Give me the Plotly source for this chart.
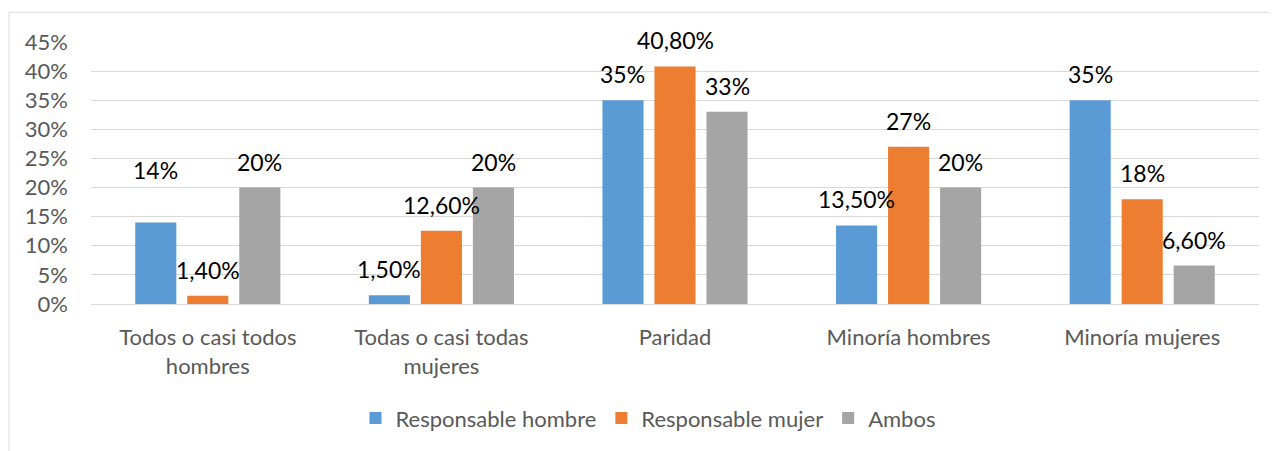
import plotly.graph_objects as go

categories = ["Todos o casi todos<br>hombres", "Todas o casi todas<br>mujeres", "Paridad",
              "Minoría hombres", "Minoría mujeres"]
series_names = ["Responsable hombre", "Responsable mujer", "Ambos"]
resp_hombre = [14, 1.5, 35, 13.5, 35]
resp_mujer = [1.4, 12.6, 40.8, 27, 18]
ambos = [20, 20, 33, 20, 6.6]
y_ticks = [0, 5, 10, 15, 20, 25, 30, 35, 40, 45]
y_tick_labels = [f"{t}%" for t in y_ticks]

colors = ["#5B9BD5", "#ED7D31", "#A5A5A5"]
FONT = "Lato"
TXT = "#595959"

# the page body has an 8px margin; work in page pixels and convert
OFF = 8
PAGE_W, PAGE_H = 1277, 451
W, H = PAGE_W - OFF, PAGE_H - OFF
PLOT_X0, PLOT_X1, PLOT_Y0, PLOT_Y1 = 91, 1259, 42, 306  # page px
L, R = PLOT_X0 - OFF, W - (PLOT_X1 - OFF)
T, B = PLOT_Y0 - OFF, H - (PLOT_Y1 - OFF)
BARGAP, BARGROUPGAP = 0.332, 0.21


def fmt(v):
    if float(v).is_integer():
        return f"{int(v)}%"
    return f"{v:.2f}%".replace(".", ",")


fig = go.Figure()
all_series = [resp_hombre, resp_mujer, ambos]
for name, vals, col in zip(series_names, all_series, colors):
    fig.add_trace(go.Bar(x=categories, y=vals, name=name, marker=dict(color=col, line=dict(width=0))))

plot_w = PLOT_X1 - PLOT_X0
plot_h = PLOT_Y1 - PLOT_Y0
cat_w = plot_w / len(categories)
slot = cat_w * (1 - BARGAP) / len(all_series)
extra_lift = {(0, 0): 26}
for i, vals in enumerate(all_series):
    for j, v in enumerate(vals):
        fig.add_annotation(x=categories[j], y=v, text=fmt(v), showarrow=False,
                           xshift=(i - 1) * slot, yshift=26 + extra_lift.get((i, j), 0),
                           font=dict(family=FONT, size=23, color="#000000"),
                           xanchor="center", yanchor="middle")


def py(page_px):
    return (PLOT_Y1 - page_px) / plot_h


def pxx(page_px):
    return (page_px - PLOT_X0) / plot_w


# chart border (top and left edges)
fig.add_shape(type="line", xref="paper", yref="paper", x0=pxx(9), x1=pxx(PAGE_W + 5), y0=py(12), y1=py(12),
              line=dict(color="#D9D9D9", width=1))
fig.add_shape(type="line", xref="paper", yref="paper", x0=pxx(9), x1=pxx(9), y0=py(12), y1=py(PAGE_H + 5),
              line=dict(color="#D9D9D9", width=1))

fig.update_layout(
    width=W, height=H,
    margin=dict(l=L, r=R, t=T, b=B, pad=0),
    paper_bgcolor="white", plot_bgcolor="white",
    barmode="group", bargap=BARGAP, bargroupgap=BARGROUPGAP,
    font=dict(family=FONT, color=TXT),
    showlegend=True,
    legend=dict(orientation="h", x=pxx(648), xanchor="center", y=py(421), yanchor="middle",
                font=dict(family=FONT, size=22, color=TXT), itemwidth=30, traceorder="normal"),
    xaxis=dict(showgrid=False, showline=False, ticks="", tickfont=dict(family=FONT, size=22, color=TXT),
               ticklabelstandoff=18),
    yaxis=dict(range=[0, 45], tickmode="array", tickvals=y_ticks, ticktext=y_tick_labels,
               showgrid=True, gridcolor="#D9D9D9",
               gridwidth=1, zeroline=True, zerolinecolor="#D9D9D9", zerolinewidth=1, showline=False,
               ticks="", tickfont=dict(family=FONT, size=22, color=TXT), ticklabelstandoff=22),
)

fig.write_html("out.html")
